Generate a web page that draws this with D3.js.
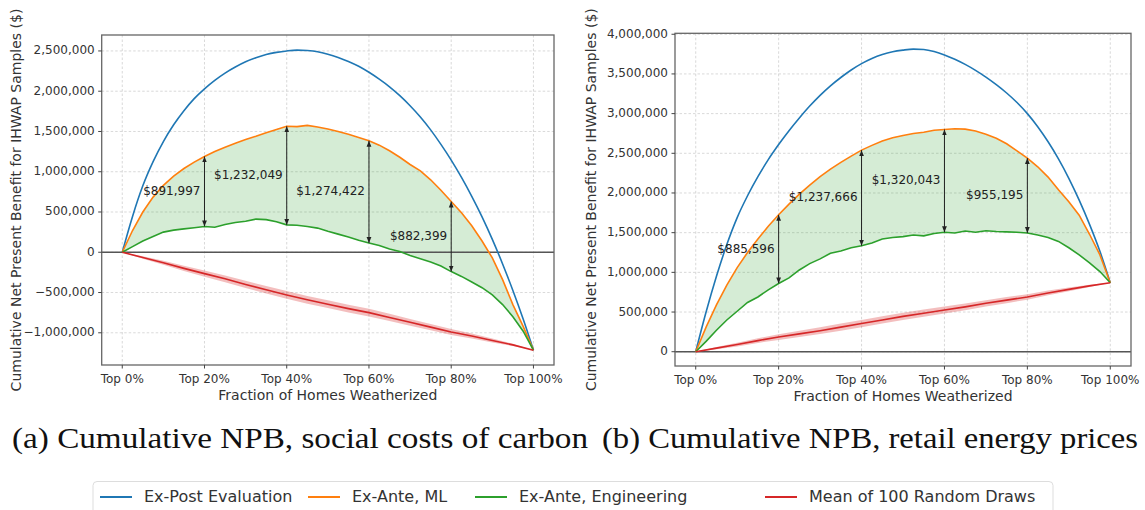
<!DOCTYPE html>
<html lang="en">
<head>
<meta charset="utf-8">
<title>Cumulative NPB</title>
<script src="https://d3js.org/d3.v7.min.js"></script>
<style>
  body { margin: 0; background: #fff; }
  svg { display: block; font-family: "DejaVu Sans", sans-serif; }
  .tick-label { font-size: 12px; fill: #333; }
  .axis-title { font-size: 14px; fill: #333; }
  .ann { font-size: 12px; fill: #222; }
  .caption { font-family: "Liberation Serif", serif; font-size: 30px; fill: #111; }
  .legend-text { font-size: 16px; fill: #333; }
</style>
</head>
<body>
<script>
// fraction of homes weatherized (x) -- fine grid for the model curves
var fracs = [0, 0.025, 0.05, 0.075, 0.1, 0.125, 0.15, 0.175, 0.2, 0.225, 0.25, 0.275, 0.3, 0.325, 0.35, 0.375, 0.4,
  0.425, 0.45, 0.475, 0.5, 0.525, 0.55, 0.575, 0.6, 0.625, 0.65, 0.675, 0.7, 0.725, 0.75, 0.775, 0.8,
  0.825, 0.85, 0.875, 0.9, 0.925, 0.95, 0.975, 1];
// coarse grid for the random-draw mean
var fracsRand = [0, 0.05, 0.1, 0.15, 0.2, 0.25, 0.3, 0.35, 0.4, 0.45, 0.5, 0.55, 0.6, 0.65, 0.7, 0.75, 0.8, 0.85, 0.9, 0.95, 1];

// (a) social costs of carbon, values in $ thousands
var a_expost = [0, 445, 825, 1125, 1375, 1583, 1758, 1908, 2030, 2135, 2225, 2300, 2365, 2415, 2455, 2482, 2500,
  2510, 2505, 2490, 2460, 2420, 2370, 2310, 2235, 2150, 2055, 1945, 1820, 1680, 1520, 1340, 1145,
  930, 695, 440, 160, -145, -475, -830, -1216];
var a_ml = [0, 270, 500, 685, 830, 945, 1040, 1120, 1190, 1250, 1305, 1355, 1400, 1440, 1485, 1525, 1565,
  1560, 1575, 1555, 1530, 1500, 1465, 1425, 1385, 1330, 1260, 1180, 1090, 1010, 900, 770, 630,
  490, 330, 140, -70, -340, -650, -920, -1216];
var a_eng = [0, 70, 140, 195, 250, 275, 290, 305, 320, 310, 345, 370, 385, 412, 405, 380, 340,
  335, 320, 300, 260, 225, 190, 150, 115, 85, 40, 10, -40, -80, -120, -170, -240,
  -300, -370, -440, -530, -650, -800, -980, -1216];
var a_rand = [0, -65, -130, -200, -265, -330, -400, -465, -530, -590, -645, -700, -750, -810, -870, -930, -990, -1040, -1095, -1150, -1216];
var a_randBand = [0, 15, 25, 32, 38, 42, 45, 47, 48, 48, 48, 48, 47, 45, 42, 40, 36, 32, 25, 15, 0];
var a_yTicks = [-1000, -500, 0, 500, 1000, 1500, 2000, 2500];
var a_gapLabels = ["$891,997", "$1,232,049", "$1,274,422", "$882,399"];

// (b) retail energy prices, values in $ thousands
var b_expost = [0, 500, 950, 1350, 1690, 1965, 2205, 2420, 2610, 2785, 2945, 3095, 3230, 3350, 3455, 3550, 3630,
  3695, 3745, 3780, 3800, 3812, 3807, 3782, 3740, 3685, 3620, 3545, 3460, 3365, 3260, 3140, 3000,
  2835, 2645, 2430, 2185, 1910, 1605, 1265, 869];
var b_ml = [0, 310, 590, 840, 1060, 1250, 1420, 1580, 1725, 1860, 1985, 2100, 2205, 2300, 2385, 2465, 2540,
  2600, 2655, 2695, 2725, 2750, 2765, 2790, 2800, 2810, 2805, 2780, 2740, 2690, 2620, 2530, 2440,
  2330, 2200, 2040, 1890, 1720, 1480, 1220, 869];
var b_eng = [0, 130, 270, 400, 510, 620, 690, 780, 860, 930, 1030, 1110, 1170, 1240, 1270, 1310, 1335,
  1370, 1420, 1440, 1450, 1470, 1460, 1490, 1505, 1495, 1520, 1505, 1525, 1515, 1510, 1505, 1495,
  1470, 1440, 1390, 1310, 1220, 1120, 1010, 869];
var b_rand = [0, 45, 90, 140, 185, 225, 265, 310, 355, 400, 445, 485, 525, 565, 610, 650, 690, 740, 785, 830, 869];
var b_randBand = [0, 14, 24, 30, 36, 40, 43, 45, 46, 46, 46, 46, 45, 43, 40, 38, 34, 30, 24, 14, 0];
var b_yTicks = [0, 500, 1000, 1500, 2000, 2500, 3000, 3500, 4000];
var b_gapLabels = ["$885,596", "$1,237,666", "$1,320,043", "$955,195"];

var xTicks = [0, 0.2, 0.4, 0.6, 0.8, 1];
var xTickLabels = ["Top 0%", "Top 20%", "Top 40%", "Top 60%", "Top 80%", "Top 100%"];
var gapAt = [0.2, 0.4, 0.6, 0.8];

var seriesNames = ["Ex-Post Evaluation", "Ex-Ante, ML", "Ex-Ante, Engineering", "Mean of 100 Random Draws"];
var seriesColors = ["#1f77b4", "#ff7f0e", "#2ca02c", "#d62728"];

var W = 1145, H = 510;
var svg = d3.select("body").append("svg").attr("width", W).attr("height", H);

var defs = svg.append("defs");
defs.append("marker").attr("id", "ahead")
  .attr("viewBox", "0 0 10 10").attr("refX", 10).attr("refY", 5)
  .attr("markerWidth", 6).attr("markerHeight", 6).attr("markerUnits", "userSpaceOnUse")
  .attr("orient", "auto-start-reverse")
  .append("path").attr("d", "M0,1 L10,5 L0,9 Z").attr("fill", "#222");

var fmt = d3.format(",");

function panel(p) {
  var x = d3.scaleLinear().domain([-0.05, 1.05]).range([p.left, p.right]);
  var y = d3.scaleLinear().domain(p.yDomain).range([p.bottom, p.top]);
  var g = svg.append("g");

  // grid
  g.selectAll(".gx").data(xTicks).enter().append("line")
    .attr("x1", d => x(d)).attr("x2", d => x(d)).attr("y1", p.top).attr("y2", p.bottom)
    .attr("stroke", "#cfcfcf").attr("stroke-width", 0.8).attr("stroke-dasharray", "2.5,2");
  g.selectAll(".gy").data(p.yTicks).enter().append("line")
    .attr("x1", p.left).attr("x2", p.right).attr("y1", d => y(d)).attr("y2", d => y(d))
    .attr("stroke", "#cfcfcf").attr("stroke-width", 0.8).attr("stroke-dasharray", "2.5,2");

  var pts = function (arr) { return arr.map((v, i) => [fracs[i], v]); };

  // shaded gap between ML and engineering
  var area = d3.area().x((d, i) => x(fracs[i])).y0((d, i) => y(p.eng[i])).y1(d => y(d));
  g.append("path").datum(p.ml).attr("d", area).attr("fill", "#2ca02c").attr("fill-opacity", 0.2);

  // random draw band
  var band = d3.area().x((d, i) => x(fracsRand[i]))
    .y0((d, i) => y(d - p.randBand[i])).y1((d, i) => y(d + p.randBand[i]));
  g.append("path").datum(p.rand).attr("d", band).attr("fill", "#d62728").attr("fill-opacity", 0.3);

  // zero line
  g.append("line").attr("x1", p.left).attr("x2", p.right).attr("y1", y(0)).attr("y2", y(0))
    .attr("stroke", "#555").attr("stroke-width", 1.5);

  var line = d3.line().x(d => x(d[0])).y(d => y(d[1]));
  var curve = d3.line().x(d => x(d[0])).y(d => y(d[1])).curve(d3.curveMonotoneX);
  g.append("path").attr("d", curve(pts(p.expost))).attr("fill", "none").attr("stroke", seriesColors[0]).attr("stroke-width", 1.6);
  g.append("path").attr("d", line(pts(p.ml))).attr("fill", "none").attr("stroke", seriesColors[1]).attr("stroke-width", 1.6);
  g.append("path").attr("d", line(pts(p.eng))).attr("fill", "none").attr("stroke", seriesColors[2]).attr("stroke-width", 1.6);
  g.append("path").attr("d", line(p.rand.map((v, i) => [fracsRand[i], v]))).attr("fill", "none")
    .attr("stroke", seriesColors[3]).attr("stroke-width", 1.6);

  // gap arrows and labels
  gapAt.forEach(function (f, k) {
    var i = fracs.indexOf(f);
    var top = p.ml[i], bot = p.eng[i];
    g.append("line").attr("x1", x(f)).attr("x2", x(f)).attr("y1", y(top)).attr("y2", y(bot))
      .attr("stroke", "#222").attr("stroke-width", 1)
      .attr("marker-start", "url(#ahead)").attr("marker-end", "url(#ahead)");
    g.append("text").attr("class", "ann").attr("x", x(f) - 4).attr("y", y((top + bot) / 2))
      .attr("text-anchor", "end").attr("dominant-baseline", "middle").text(p.gapLabels[k]);
  });

  // frame
  g.append("rect").attr("x", p.left).attr("y", p.top).attr("width", p.right - p.left).attr("height", p.bottom - p.top)
    .attr("fill", "none").attr("stroke", "#666").attr("stroke-width", 1.3);

  // ticks
  g.selectAll(".ty").data(p.yTicks).enter().append("line")
    .attr("x1", p.left - 3.5).attr("x2", p.left).attr("y1", d => y(d)).attr("y2", d => y(d))
    .attr("stroke", "#444").attr("stroke-width", 1);
  g.selectAll(".tyl").data(p.yTicks).enter().append("text").attr("class", "tick-label")
    .attr("x", p.left - 7).attr("y", d => y(d)).attr("text-anchor", "end").attr("dominant-baseline", "middle")
    .text(d => fmt(d * 1000));
  g.selectAll(".tx").data(xTicks).enter().append("line")
    .attr("x1", d => x(d)).attr("x2", d => x(d)).attr("y1", p.bottom).attr("y2", p.bottom + 3.5)
    .attr("stroke", "#444").attr("stroke-width", 1);
  g.selectAll(".txl").data(xTicks).enter().append("text").attr("class", "tick-label")
    .attr("x", d => x(d)).attr("y", p.bottom + 18).attr("text-anchor", "middle")
    .text((d, i) => xTickLabels[i]);

  g.append("text").attr("class", "axis-title").attr("x", (p.left + p.right) / 2).attr("y", p.bottom + 35)
    .attr("text-anchor", "middle").text("Fraction of Homes Weatherized");
  g.append("text").attr("class", "axis-title")
    .attr("transform", "translate(" + p.yTitleX + "," + ((p.top + p.bottom) / 2) + ") rotate(-90)")
    .attr("text-anchor", "middle").attr("dominant-baseline", "middle")
    .text("Cumulative Net Present Benefit for IHWAP Samples ($)");

  svg.append("text").attr("class", "caption").attr("x", p.capX).attr("y", 448)
    .attr("textLength", p.capW).attr("lengthAdjust", "spacingAndGlyphs").text(p.caption);
}

panel({
  left: 101.7, right: 554, top: 35, bottom: 365, yDomain: [-1400, 2698], yTicks: a_yTicks,
  expost: a_expost, ml: a_ml, eng: a_eng, rand: a_rand, randBand: a_randBand, gapLabels: a_gapLabels,
  yTitleX: 17, capX: 12, capW: 576, caption: "(a) Cumulative NPB, social costs of carbon"
});
panel({
  left: 675, right: 1131, top: 33.3, bottom: 366, yDomain: [-180, 4012], yTicks: b_yTicks,
  expost: b_expost, ml: b_ml, eng: b_eng, rand: b_rand, randBand: b_randBand, gapLabels: b_gapLabels,
  yTitleX: 592, capX: 602, capW: 536, caption: "(b) Cumulative NPB, retail energy prices"
});

// legend
var legendX = [100, 308, 475, 765];
var lg = svg.append("g");
lg.append("rect").attr("x", 93).attr("y", 481.5).attr("width", 960).attr("height", 40).attr("rx", 4)
  .attr("fill", "#fff").attr("stroke", "#ddd").attr("stroke-width", 1);
seriesNames.forEach(function (name, i) {
  lg.append("line").attr("x1", legendX[i]).attr("x2", legendX[i] + 32).attr("y1", 497).attr("y2", 497)
    .attr("stroke", seriesColors[i]).attr("stroke-width", 2);
  lg.append("text").attr("class", "legend-text").attr("x", legendX[i] + 44).attr("y", 497)
    .attr("dominant-baseline", "middle").text(name);
});
</script>
</body>
</html>
